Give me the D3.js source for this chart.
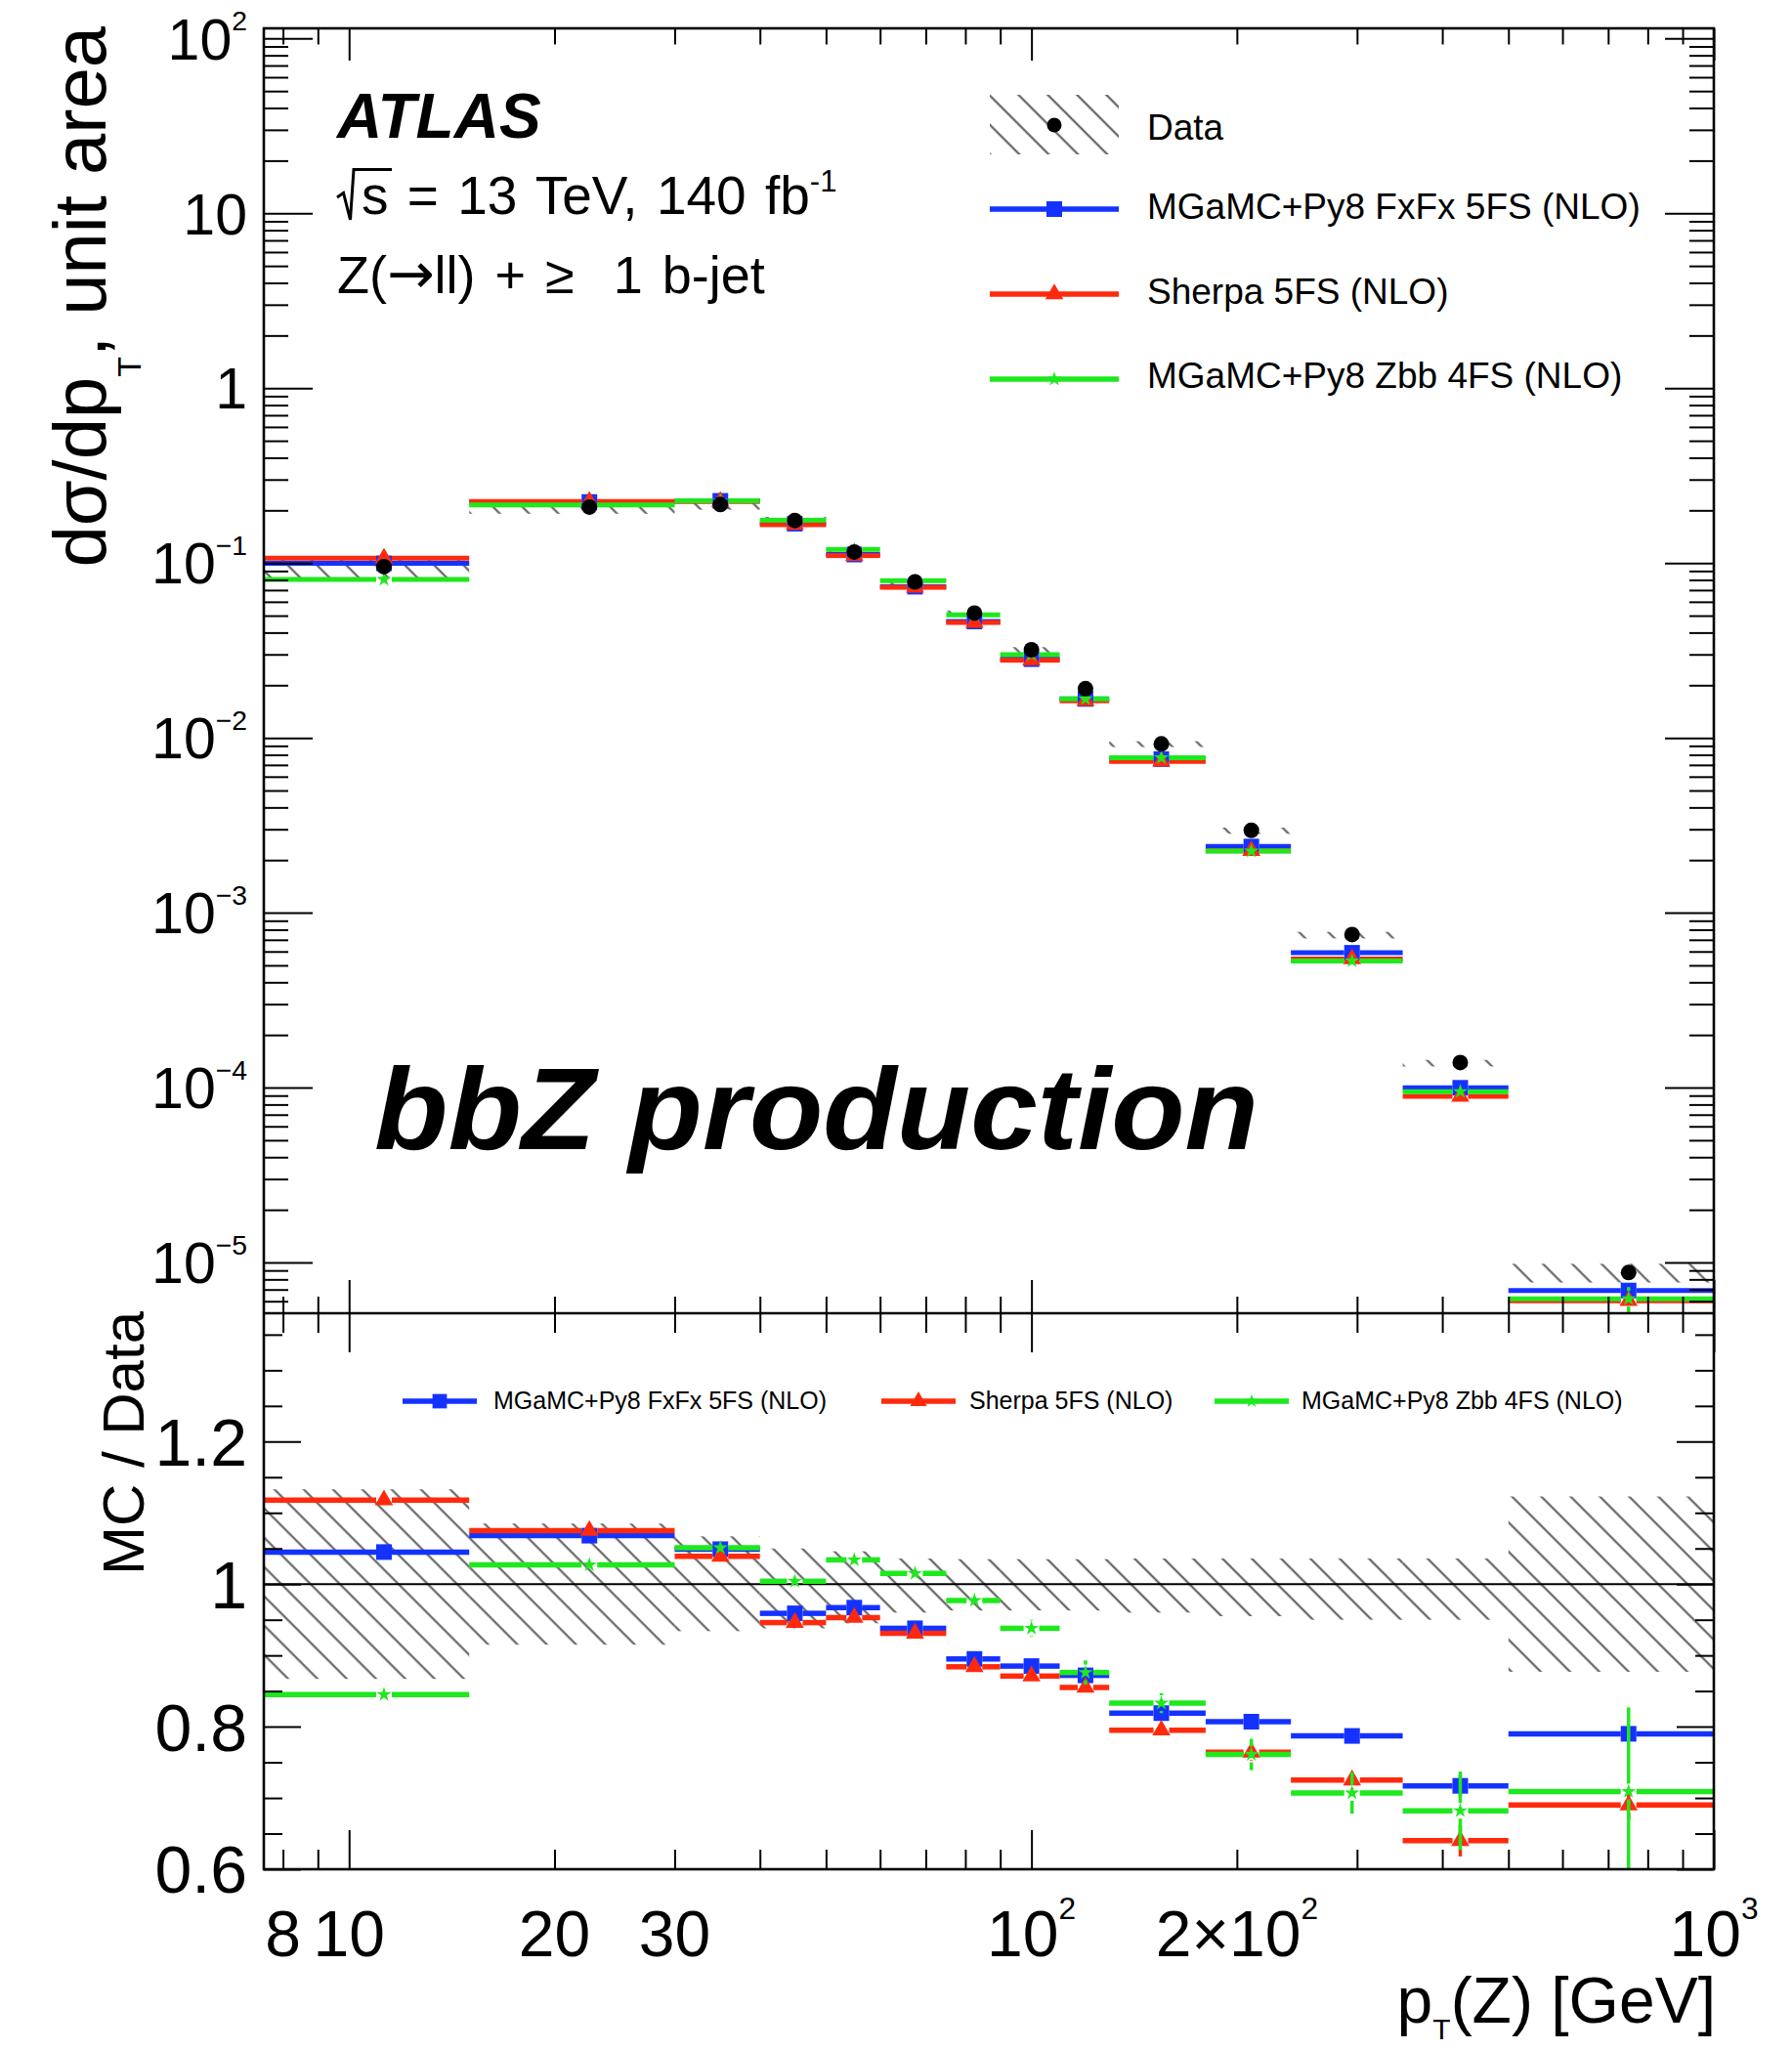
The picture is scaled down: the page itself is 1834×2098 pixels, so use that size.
<!DOCTYPE html>
<html>
<head>
<meta charset="utf-8">
<title>bbZ production: normalised pT(Z) distribution</title>
<script src="https://cdn.jsdelivr.net/npm/d3@7/dist/d3.min.js"></script>
<style>
  html, body { margin: 0; padding: 0; background: #fff; }
  svg { display: block; }
  text { font-family: "Liberation Sans", Arial, Helvetica, sans-serif; fill: #000; }
</style>
</head>
<body>
<svg id="chart" width="1834" height="2098" viewBox="0 0 1834 2098"></svg>
<script>
// ---------------- data ----------------
// pT(Z) bin edges [GeV]
const binEdges = [7.5, 15, 30, 40, 50, 60, 75, 90, 110, 130, 180, 240, 350, 500, 1000];

// unfolded data, dsigma/dpT normalised to unit area
const dataValues = [0.0953, 0.209, 0.216, 0.175, 0.1156, 0.078, 0.0517, 0.0319, 0.0191,
                    0.00923, 0.00296, 0.00075, 0.000139, 0.00000875];
// relative total uncertainty of the data (hatched band)
const dataUncUp   = [0.133, 0.085, 0.067, 0.050, 0.046, 0.036, 0.035, 0.035, 0.035, 0.036, 0.036, 0.036, 0.036, 0.123];
const dataUncDown = [0.133, 0.085, 0.066, 0.062, 0.055, 0.040, 0.037, 0.037, 0.037, 0.040, 0.045, 0.050, 0.050, 0.123];

// predictions, same normalisation
const fxfxValues   = [0.0996, 0.2232, 0.2266, 0.1678, 0.1118, 0.0732, 0.0463, 0.0282, 0.0167,
                      0.00756, 0.00239, 0.000590, 0.0000997, 0.00000691];
const sherpaValues = [0.1065, 0.2247, 0.2244, 0.1656, 0.1102, 0.0726, 0.0457, 0.0278, 0.0163,
                      0.00734, 0.00226, 0.000544, 0.0000890, 0.00000604];
const zbbValues    = [0.0805, 0.2146, 0.2270, 0.1757, 0.1195, 0.0792, 0.0505, 0.0299, 0.0167,
                      0.00769, 0.00225, 0.000530, 0.0000948, 0.00000620];

// MC / Data ratios and their statistical uncertainties
const fxfxRatio   = [1.045, 1.068, 1.049, 0.959, 0.967, 0.938, 0.895, 0.885, 0.872, 0.819, 0.807, 0.787, 0.717, 0.790];
const sherpaRatio = [1.118, 1.075, 1.039, 0.946, 0.953, 0.931, 0.884, 0.871, 0.855, 0.795, 0.764, 0.725, 0.640, 0.690];
const zbbRatio    = [0.845, 1.027, 1.051, 1.004, 1.034, 1.015, 0.977, 0.938, 0.876, 0.833, 0.761, 0.707, 0.682, 0.709];
const fxfxRatioErr   = [0.004, 0.003, 0.004, 0.004, 0.005, 0.005, 0.006, 0.006, 0.008, 0.008, 0.008, 0.006, 0.015, 0.010];
const sherpaRatioErr = [0.005, 0.003, 0.004, 0.005, 0.006, 0.006, 0.007, 0.008, 0.009, 0.010, 0.012, 0.012, 0.022, 0.020];
const zbbRatioErr    = [0.007, 0.005, 0.006, 0.006, 0.008, 0.008, 0.011, 0.012, 0.017, 0.014, 0.022, 0.029, 0.055, 0.118];

const seriesLabels = ["MGaMC+Py8 FxFx 5FS (NLO)", "Sherpa 5FS (NLO)", "MGaMC+Py8 Zbb 4FS (NLO)"];

// tick labels
const upperYTickValues = [1e2, 1e1, 1, 1e-1, 1e-2, 1e-3, 1e-4, 1e-5];
const upperYTickLabels = ["10^2", "10", "1", "10^−1", "10^−2", "10^−3", "10^−4", "10^−5"];
const ratioTickValues = [0.6, 0.8, 1.0, 1.2];
const ratioTickLabels = ["0.6", "0.8", "1", "1.2"];
const xTickValues = [8, 10, 20, 30, 100, 200, 1000];
const xTickLabels = ["8", "10", "20", "30", "10^2", "2×10^2", "10^3"];

// ---------------- layout ----------------
const W = 1834, H = 2098;
const L = 270, R = 1754, T = 29, MID = 1344, B = 1913;

const svg = d3.select("#chart");
svg.append("rect").attr("width", W).attr("height", H).attr("fill", "#fff");

const x = d3.scaleLog().domain([7.5, 1000]).range([L, R]);
const yTop = d3.scaleLog().domain([Math.pow(10, -5.2906), Math.pow(10, 2.0576)]).range([MID, T]);
const yRat = d3.scaleLinear().domain([0.6, 1.38]).range([B, MID]);

const defs = svg.append("defs");
defs.append("pattern")
  .attr("id", "hatch")
  .attr("patternUnits", "userSpaceOnUse")
  .attr("width", 10).attr("height", 21.2)
  .attr("patternTransform", "rotate(45)")
  .append("line")
  .attr("x1", -1).attr("x2", 11).attr("y1", 10).attr("y2", 10)
  .attr("stroke", "#555").attr("stroke-width", 2);
defs.append("clipPath").attr("id", "clipTop")
  .append("rect").attr("x", L).attr("y", T).attr("width", R - L).attr("height", MID - T);
defs.append("clipPath").attr("id", "clipBot")
  .append("rect").attr("x", L).attr("y", MID).attr("width", R - L).attr("height", B - MID);

const series = [
  { label: seriesLabels[0], color: "#1432ff", values: fxfxValues, ratio: fxfxRatio, err: fxfxRatioErr,
    symbol: d3.symbolSquare, size: 256 },
  { label: seriesLabels[1], color: "#ff2a0d", values: sherpaValues, ratio: sherpaRatio, err: sherpaRatioErr,
    symbol: d3.symbolTriangle, size: 150 },
  { label: seriesLabels[2], color: "#1ee81e", values: zbbValues, ratio: zbbRatio, err: zbbRatioErr,
    symbol: d3.symbolStar, size: 70 }
];

const binCenter = i => (binEdges[i] + binEdges[i + 1]) / 2;

// one histogram: horizontal bin bars, vertical error bars and a marker per bin
function drawSeries(g, yScale, vals, errs, s, lw) {
  const gap = 8;
  const sg = g.append("g");
  vals.forEach((v, i) => {
    const x0 = x(binEdges[i]), x1 = x(binEdges[i + 1]);
    const cx = x(binCenter(i)), cy = yScale(v);
    sg.append("line").attr("x1", x0).attr("x2", cx - gap).attr("y1", cy).attr("y2", cy)
      .attr("stroke", s.color).attr("stroke-width", lw);
    sg.append("line").attr("x1", cx + gap).attr("x2", x1).attr("y1", cy).attr("y2", cy)
      .attr("stroke", s.color).attr("stroke-width", lw);
    const yHi = yScale(v + errs[i]);
    const yLo = yScale(Math.max(v - errs[i], 1e-12));
    if (cy - yHi > gap) sg.append("line").attr("x1", cx).attr("x2", cx).attr("y1", yHi).attr("y2", cy - gap)
      .attr("stroke", s.color).attr("stroke-width", 3.5);
    if (yLo - cy > gap) sg.append("line").attr("x1", cx).attr("x2", cx).attr("y1", cy + gap).attr("y2", yLo)
      .attr("stroke", s.color).attr("stroke-width", 3.5);
    sg.append("path").attr("d", d3.symbol().type(s.symbol).size(s.size)())
      .attr("transform", `translate(${cx},${cy})`).attr("fill", s.color);
  });
}

// ---------------- upper panel ----------------
const gTop = svg.append("g").attr("clip-path", "url(#clipTop)");
gTop.append("g").selectAll("rect").data(dataValues).join("rect")
  .attr("x", (d, i) => x(binEdges[i]))
  .attr("width", (d, i) => x(binEdges[i + 1]) - x(binEdges[i]))
  .attr("y", (d, i) => yTop(d * (1 + dataUncUp[i])))
  .attr("height", (d, i) => yTop(d * (1 - dataUncDown[i])) - yTop(d * (1 + dataUncUp[i])))
  .attr("fill", "url(#hatch)");

series.forEach(s => {
  const absErr = s.values.map((v, i) => v * s.err[i] / s.ratio[i]);
  drawSeries(gTop, yTop, s.values, absErr, s, 5);
});

gTop.append("g").selectAll("circle").data(dataValues).join("circle")
  .attr("cx", (d, i) => x(binCenter(i)))
  .attr("cy", d => yTop(d))
  .attr("r", 8).attr("fill", "#000");

// ---------------- lower panel ----------------
const gBot = svg.append("g").attr("clip-path", "url(#clipBot)");
gBot.append("g").selectAll("rect").data(dataValues).join("rect")
  .attr("x", (d, i) => x(binEdges[i]))
  .attr("width", (d, i) => x(binEdges[i + 1]) - x(binEdges[i]))
  .attr("y", (d, i) => yRat(1 + dataUncUp[i]))
  .attr("height", (d, i) => yRat(1 - dataUncDown[i]) - yRat(1 + dataUncUp[i]))
  .attr("fill", "url(#hatch)");
gBot.append("line").attr("x1", L).attr("x2", R).attr("y1", yRat(1)).attr("y2", yRat(1))
  .attr("stroke", "#000").attr("stroke-width", 2);
series.forEach(s => drawSeries(gBot, yRat, s.ratio, s.err, s, 5.5));

// ---------------- axes (ticks) ----------------
const xMinor = [];
[1, 10, 100].forEach(dec => d3.range(2, 10).forEach(m => {
  const v = m * dec;
  if (v > 7.5 && v < 1000 && v !== 10 && v !== 100) xMinor.push(v);
}));
const xMajor = [10, 100, 1000];
const yMajor = upperYTickValues;
const yMinor = [];
d3.range(-6, 3).forEach(e => d3.range(2, 10).forEach(m => {
  const v = m * Math.pow(10, e);
  if (v > yTop.domain()[0] && v < yTop.domain()[1]) yMinor.push(v);
}));
const rMinor = d3.range(0.65, 1.37, 0.05).map(v => +v.toFixed(2)).filter(v => ![0.8, 1.0, 1.2].includes(v));
const rMajor = [0.6, 0.8, 1.0, 1.2];

function ticks(axisGen, tr) {
  const g = svg.append("g").attr("transform", tr).call(axisGen.tickFormat(""));
  g.select(".domain").remove();
  g.selectAll("line").attr("stroke", "#000").attr("stroke-width", 2);
}
// upper panel
ticks(d3.axisBottom(x).tickValues(xMajor).tickSize(33), `translate(0,${T})`);
ticks(d3.axisBottom(x).tickValues(xMinor).tickSize(16.5), `translate(0,${T})`);
ticks(d3.axisTop(x).tickValues(xMajor).tickSize(34), `translate(0,${MID})`);
ticks(d3.axisTop(x).tickValues(xMinor).tickSize(17), `translate(0,${MID})`);
ticks(d3.axisRight(yTop).tickValues(yMajor).tickSize(50), `translate(${L},0)`);
ticks(d3.axisRight(yTop).tickValues(yMinor).tickSize(25), `translate(${L},0)`);
ticks(d3.axisLeft(yTop).tickValues(yMajor).tickSize(50), `translate(${R},0)`);
ticks(d3.axisLeft(yTop).tickValues(yMinor).tickSize(25), `translate(${R},0)`);
// lower panel
ticks(d3.axisBottom(x).tickValues(xMajor).tickSize(40), `translate(0,${MID})`);
ticks(d3.axisBottom(x).tickValues(xMinor).tickSize(20), `translate(0,${MID})`);
ticks(d3.axisTop(x).tickValues(xMajor).tickSize(40), `translate(0,${B})`);
ticks(d3.axisTop(x).tickValues(xMinor).tickSize(20), `translate(0,${B})`);
ticks(d3.axisRight(yRat).tickValues(rMajor).tickSize(38), `translate(${L},0)`);
ticks(d3.axisRight(yRat).tickValues(rMinor).tickSize(19), `translate(${L},0)`);
ticks(d3.axisLeft(yRat).tickValues(rMajor).tickSize(38), `translate(${R},0)`);
ticks(d3.axisLeft(yRat).tickValues(rMinor).tickSize(19), `translate(${R},0)`);

// frames
svg.append("rect").attr("x", L).attr("y", T).attr("width", R - L).attr("height", B - T)
  .attr("fill", "none").attr("stroke", "#000").attr("stroke-width", 2.6);
svg.append("line").attr("x1", L).attr("x2", R).attr("y1", MID).attr("y2", MID)
  .attr("stroke", "#000").attr("stroke-width", 2.6);

// ---------------- tick labels ----------------
function powerLabel(sel, label, fs, supScale, supShift) {
  const parts = label.split("^");
  sel.append("tspan").text(parts[0]);
  if (parts.length > 1) {
    sel.append("tspan").attr("font-size", fs * supScale).attr("dy", -fs * supShift).text(parts[1]);
  }
}
upperYTickValues.forEach((v, i) => {
  const fs = 59;
  const t = svg.append("text").attr("x", 253).attr("y", yTop(v) + 0.36 * fs)
    .attr("text-anchor", "end").attr("font-size", fs);
  powerLabel(t, upperYTickLabels[i], fs, 0.48, 0.5);
});
ratioTickValues.forEach((v, i) => {
  const fs = 68;
  svg.append("text").attr("x", 253).attr("y", yRat(v) + 0.36 * fs)
    .attr("text-anchor", "end").attr("font-size", fs).text(ratioTickLabels[i]);
});
xTickValues.forEach((v, i) => {
  const fs = 66;
  const t = svg.append("text").attr("x", x(v)).attr("y", 2002)
    .attr("text-anchor", "middle").attr("font-size", fs);
  powerLabel(t, xTickLabels[i], fs, 0.48, 0.58);
});

// ---------------- axis titles ----------------
const yTitle = svg.append("text").attr("transform", "translate(108,27) rotate(-90)")
  .attr("text-anchor", "end").attr("font-size", 76);
yTitle.append("tspan").text("dσ/dp");
yTitle.append("tspan").attr("font-size", 34).attr("dy", 36).text("T");
yTitle.append("tspan").attr("dy", -36).text(", unit area");

svg.append("text").attr("transform", "translate(147,1342) rotate(-90)")
  .attr("text-anchor", "end").attr("font-size", 60).text("MC / Data");

const xTitle = svg.append("text").attr("x", 1756).attr("y", 2070)
  .attr("text-anchor", "end").attr("font-size", 66);
xTitle.append("tspan").text("p");
xTitle.append("tspan").attr("font-size", 30).attr("dy", 17).text("T");
xTitle.append("tspan").attr("dy", -17).text("(Z) [GeV]");

// ---------------- labels ----------------
svg.append("text").attr("x", 345).attr("y", 141).attr("font-size", 64)
  .attr("font-weight", "bold").attr("font-style", "italic").text("ATLAS");

// radical sign over s
svg.append("path").attr("d", "M345,202 L351.5,197.5 L358.5,225 L362,173.5 L401,173.5")
  .attr("fill", "none").attr("stroke", "#000").attr("stroke-width", 3).attr("stroke-linejoin", "miter");
const energy = svg.append("text").attr("x", 370).attr("y", 219).attr("font-size", 55)
  .attr("word-spacing", 4);
energy.append("tspan").text("s = 13 TeV, 140 fb");
energy.append("tspan").attr("font-size", 31).attr("dy", -23).text("-1");

const sel = svg.append("text").attr("x", 345).attr("y", 300).attr("font-size", 54)
  .attr("word-spacing", 5).style("white-space", "pre");
sel.append("tspan").text("Z(");
sel.append("tspan").attr("font-family", "'DejaVu Sans', sans-serif").attr("font-size", 58).text("→");
sel.append("tspan").text("ll) + ≥  1 b-jet");

svg.append("text").attr("x", 383).attr("y", 1176).attr("font-size", 118)
  .attr("font-family", "'Open Sans', 'Noto Sans', sans-serif")
  .attr("font-weight", 800).attr("font-style", "italic")
  .attr("textLength", 905).attr("lengthAdjust", "spacingAndGlyphs")
  .text("bbZ production");

// ---------------- legends ----------------
const legTop = svg.append("g");
legTop.append("rect").attr("x", 1013).attr("y", 97).attr("width", 132).attr("height", 61)
  .attr("fill", "url(#hatch)");
legTop.append("circle").attr("cx", 1079).attr("cy", 128).attr("r", 7.5).attr("fill", "#000");
legTop.append("text").attr("x", 1174).attr("y", 143).attr("font-size", 37).text("Data");
const legRowsY = [214, 301, 388];
const legTextY = [224, 311, 397];
series.forEach((s, i) => {
  legTop.append("line").attr("x1", 1013).attr("x2", 1145).attr("y1", legRowsY[i]).attr("y2", legRowsY[i])
    .attr("stroke", s.color).attr("stroke-width", 5.5);
  legTop.append("path").attr("d", d3.symbol().type(s.symbol).size(s.size)())
    .attr("transform", `translate(1079,${legRowsY[i]})`).attr("fill", s.color);
  legTop.append("text").attr("x", 1174).attr("y", legTextY[i]).attr("font-size", 37).text(s.label);
});

const legBot = svg.append("g");
const legBotLineX = [412, 902, 1243];
const legBotTextX = [505, 992, 1332];
series.forEach((s, i) => {
  legBot.append("line").attr("x1", legBotLineX[i]).attr("x2", legBotLineX[i] + 76)
    .attr("y1", 1434).attr("y2", 1434).attr("stroke", s.color).attr("stroke-width", 5.5);
  legBot.append("path").attr("d", d3.symbol().type(s.symbol).size(s.size * 0.85)())
    .attr("transform", `translate(${legBotLineX[i] + 38},1434)`).attr("fill", s.color);
  legBot.append("text").attr("x", legBotTextX[i]).attr("y", 1442).attr("font-size", 25).text(s.label);
});
</script>
</body>
</html>
